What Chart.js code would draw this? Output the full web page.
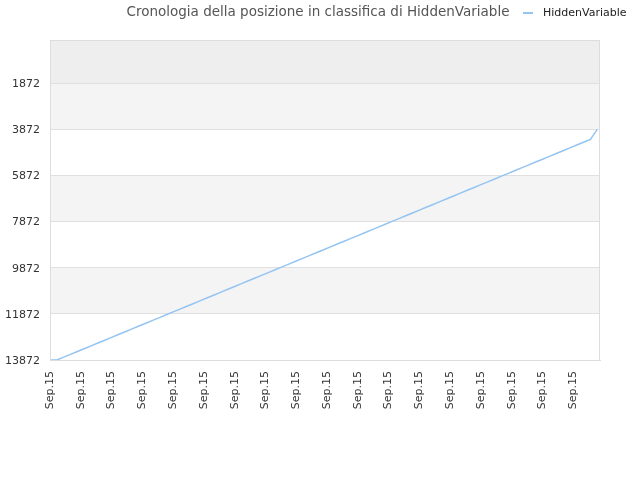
<!DOCTYPE html>
<html>
<head>
<meta charset="utf-8">
<script src="https://cdn.jsdelivr.net/npm/chart.js@4"></script>
<style>
html,body{margin:0;padding:0;background:#fff;}
#wrap{width:640px;height:480px;}
</style>
</head>
<body>
<div id="wrap"><canvas id="c" width="640" height="480"></canvas></div>
<script>
const titleText = "Cronologia della posizione in classifica di HiddenVariable";
const seriesName = "HiddenVariable";
const xLabels = ["Sep.15","Sep.15","Sep.15","Sep.15","Sep.15","Sep.15","Sep.15","Sep.15","Sep.15","Sep.15","Sep.15","Sep.15","Sep.15","Sep.15","Sep.15","Sep.15","Sep.15","Sep.15"];
const yTicks = [1872, 3872, 5872, 7872, 9872, 11872, 13872];
const rankValues = [
13872,13872,13749,13627,13504,13382,13259,13136,13014,12891,
12769,12646,12523,12401,12278,12156,12033,11910,11788,11665,
11543,11420,11297,11175,11052,10930,10807,10684,10562,10439,
10317,10194,10071,9949,9826,9704,9581,9458,9336,9213,
9091,8968,8845,8723,8600,8478,8355,8232,8110,7987,
7865,7742,7619,7497,7374,7252,7129,7006,6884,6761,
6639,6516,6393,6271,6148,6026,5903,5780,5658,5535,
5413,5290,5167,5045,4922,4800,4677,4554,4432,4309,
3872];

const FONT = "'DejaVu Sans', sans-serif";
const lineColor = '#94c4f2';
const xStep = 4.5;

const bandsPlugin = {
  id: 'bands',
  beforeDraw(chart) {
    const {ctx, chartArea: a, scales: {y}} = chart;
    const bands = [
      [y.min, yTicks[0], '#eeeeee'],
      [yTicks[0], yTicks[1], '#f4f4f4'],
      [yTicks[2], yTicks[3], '#f4f4f4'],
      [yTicks[4], yTicks[5], '#f4f4f4']
    ];
    ctx.save();
    bands.forEach(([f, t, c]) => {
      const p1 = y.getPixelForValue(f), p2 = y.getPixelForValue(t);
      ctx.fillStyle = c;
      ctx.fillRect(a.left, Math.min(p1, p2), a.right - a.left, Math.abs(p2 - p1));
    });
    ctx.restore();
  },
  afterDraw(chart) {
    const {ctx, chartArea: a} = chart;
    ctx.save();
    ctx.strokeStyle = '#dddddd';
    ctx.lineWidth = 1;
    ctx.strokeRect(a.left + 0.5, a.top + 0.5, a.right - a.left - 1, a.bottom - a.top);
    // title
    ctx.fillStyle = '#555555';
    ctx.font = '13.5px ' + FONT;
    ctx.textAlign = 'center';
    ctx.textBaseline = 'middle';
    ctx.fillText(titleText, 318, 12);
    // legend
    ctx.strokeStyle = lineColor;
    ctx.lineWidth = 2;
    ctx.beginPath();
    ctx.moveTo(523, 13);
    ctx.lineTo(533, 13);
    ctx.stroke();
    ctx.fillStyle = '#222222';
    ctx.font = '11px ' + FONT;
    ctx.textAlign = 'left';
    ctx.fillText(seriesName, 543, 13);
    ctx.restore();
  }
};

new Chart(document.getElementById('c'), {
  type: 'line',
  data: {
    labels: rankValues.map((_, i) => i),
    datasets: [{
      label: seriesName,
      data: rankValues,
      borderColor: lineColor,
      borderWidth: 1.5,
      pointRadius: 0,
      fill: false,
      tension: 0
    }]
  },
  options: {
    responsive: false,
    animation: false,
    devicePixelRatio: 1,
    layout: {padding: {top: 40, right: 40, left: 0, bottom: 0}},
    plugins: {legend: {display: false}, title: {display: false}, tooltip: {enabled: false}},
    scales: {
      x: {
        type: 'linear',
        min: 0,
        max: 80.4,
        afterBuildTicks(s) { s.ticks = xLabels.map((_, i) => ({value: i * xStep})); },
        afterFit(s) { s.height = 120; },
        grid: {display: false, drawTicks: false},
        border: {display: true, color: '#dddddd'},
        ticks: {
          autoSkip: false,
          minRotation: 90,
          maxRotation: 90,
          padding: 11,
          color: '#333333',
          font: {family: FONT, size: 11},
          callback: (v, i) => xLabels[i]
        }
      },
      y: {
        reverse: true,
        min: 0,
        max: 13872,
        afterBuildTicks(s) { s.ticks = yTicks.map(v => ({value: v})); },
        afterFit(s) { s.width = 50; },
        grid: {color: '#e0e0e0', drawTicks: false},
        border: {display: false},
        ticks: {
          padding: 10,
          labelOffset: 1,
          color: '#333333',
          font: {family: FONT, size: 11},
          callback: v => String(v)
        }
      }
    }
  },
  plugins: [bandsPlugin]
});
</script>
</body>
</html>
